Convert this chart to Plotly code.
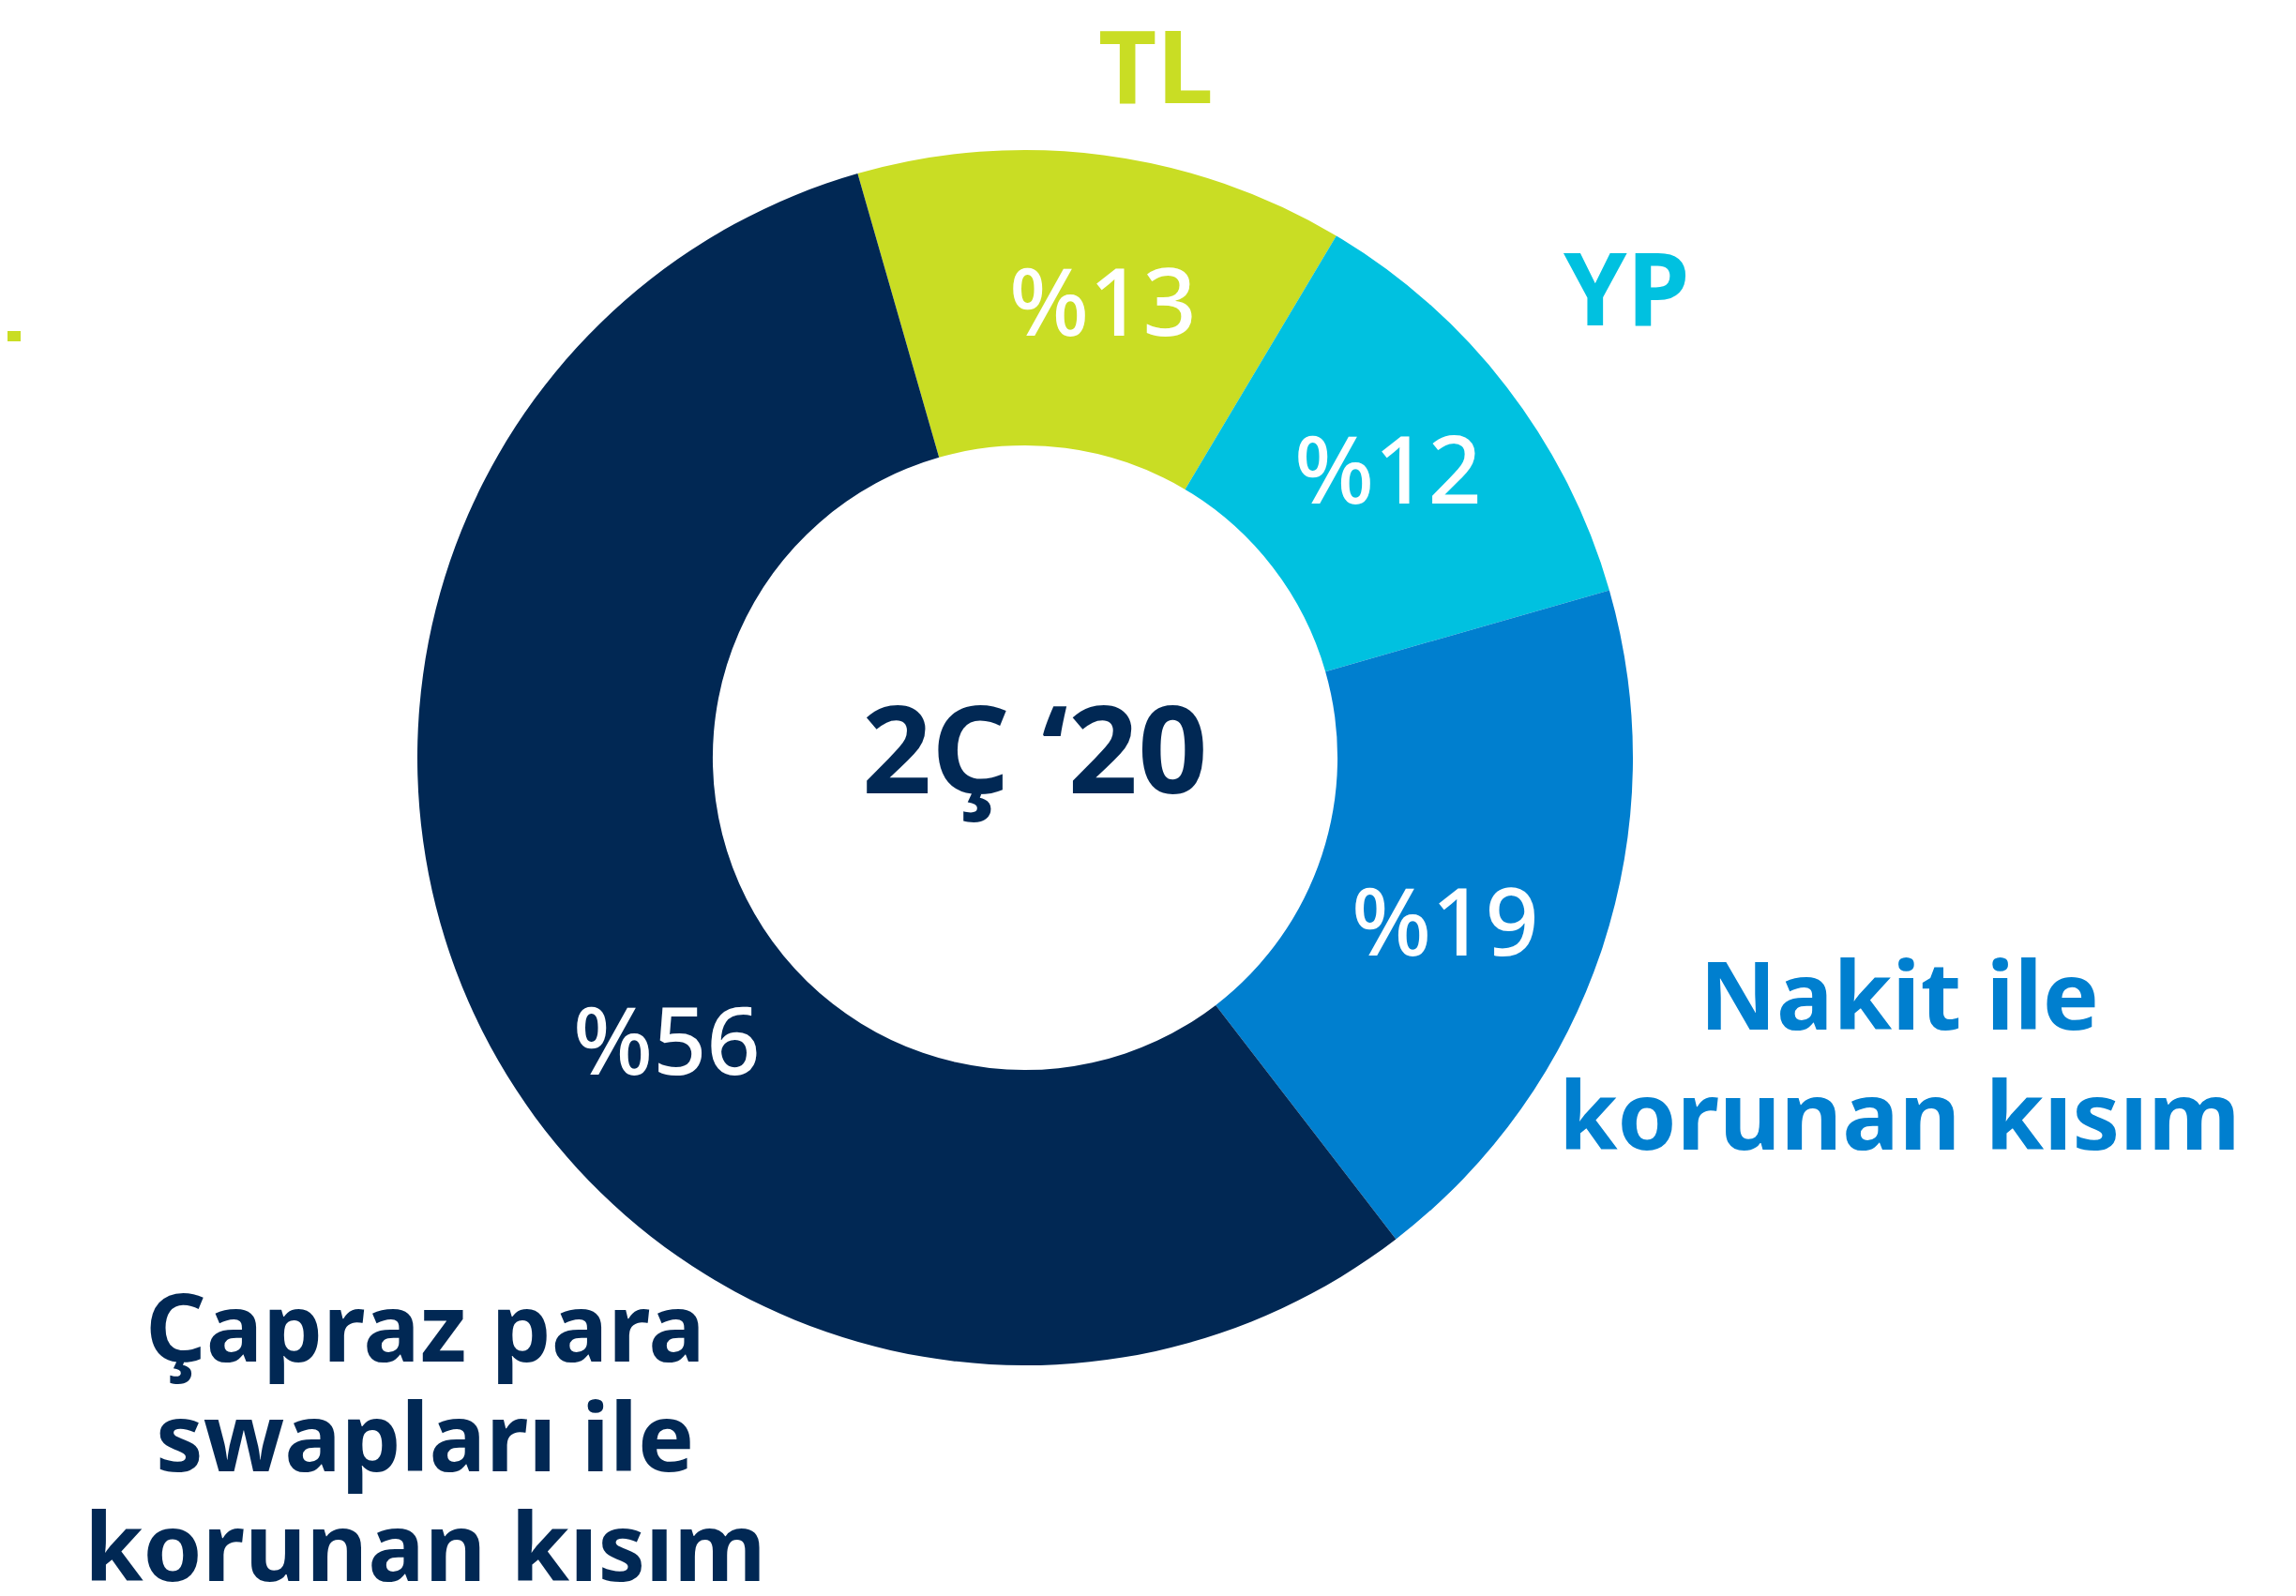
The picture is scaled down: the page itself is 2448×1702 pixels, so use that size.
import plotly.graph_objects as go

# slices in drawing order, clockwise from the TL slice
segments = ["TL", "YP", "Nakit ile korunan kısım", "Çapraz para swapları ile korunan kısım"]
shares = [13, 12, 19, 56]
share_labels = ["%13", "%12", "%19", "%56"]
colors = ["#C9DD24", "#00C1E0", "#007FCF", "#012854"]
center_label = "2Ç ‘20"

W, H = 2448, 1702
FONT = "Noto Sans"


def px(x, y):
    # pixel position -> paper coords
    return x / W, 1 - y / H


def label(x, y, text, size, color, weight):
    ax, ay = px(x, y)
    return dict(x=ax, y=ay, xref="paper", yref="paper", text=text,
                showarrow=False, xanchor="center", yanchor="middle",
                font=dict(family=FONT, size=size, color=color, weight=weight))


fig = go.Figure()
fig.add_trace(go.Pie(
    labels=segments,
    values=shares,
    sort=False,
    direction="clockwise",
    rotation=-16,
    hole=0.514,
    marker=dict(colors=colors, line=dict(width=0)),
    textinfo="none",
    hoverinfo="label+percent",
    domain=dict(x=[437 / W, 1733 / W], y=[1 - 1448 / H, 1 - 152 / H]),
))

annos = []
# percentage labels inside the ring
pct_pos = [(1168, 311), (1472, 490), (1533, 972), (703, 1099)]
for txt, (x, y) in zip(share_labels, pct_pos):
    annos.append(label(x, y, txt, 100, "white", 500))

# outside category labels
annos.append(label(1224, 61, "TL", 108, colors[0], 700))
annos.append(label(1726, 297, "YP", 108, colors[1], 700))

nakit_lines = ["Nakit ile", "korunan kısım"]
for i, line in enumerate(nakit_lines):
    annos.append(label(2017, 1051 + i * 128, line, 101, colors[2], 700))

capraz_lines = ["Çapraz para", "swapları ile", "korunan kısım"]
for i, line in enumerate(capraz_lines):
    annos.append(label(445, 1405 + i * 117, line, 101, colors[3], 700))

annos.append(label(1095, 787, center_label, 130, colors[3], 700))

fig.update_layout(
    width=W, height=H,
    margin=dict(l=0, r=0, t=0, b=0),
    paper_bgcolor="white", plot_bgcolor="white",
    showlegend=False,
    annotations=annos,
    shapes=[dict(type="rect", xref="paper", yref="paper",
                 x0=0, x1=14 / W, y0=1 - 356 / H, y1=1 - 345 / H,
                 fillcolor=colors[0], line=dict(width=0))],
)

fig.write_html("out.html")
